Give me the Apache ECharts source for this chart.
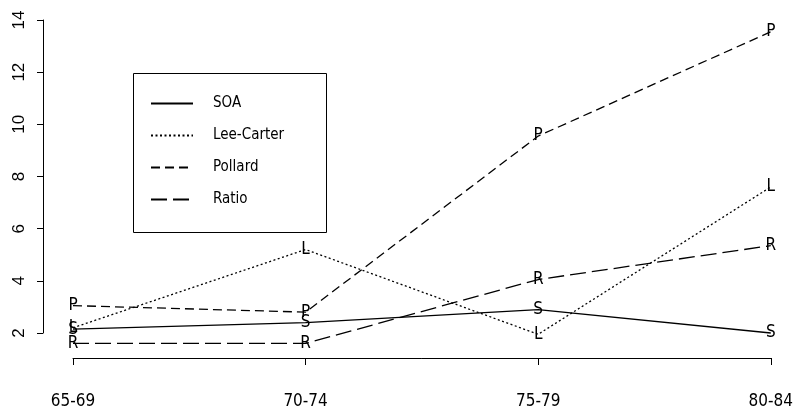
<!DOCTYPE html>
<html>
<head>
<meta charset="utf-8">
<script src="https://cdn.jsdelivr.net/npm/echarts@6/dist/echarts.min.js"></script>
<style>
  html, body { margin: 0; padding: 0; background: #fff; }
  #chart { width: 796px; height: 418px; }
</style>
</head>
<body>
<div id="chart"></div>
<script>
// ---- data ----
const categories = ['65-69', '70-74', '75-79', '80-84'];
const seriesNames = ['SOA', 'Lee-Carter', 'Pollard', 'Ratio'];
const pointLetters = ['S', 'L', 'P', 'R'];
const soa = [2.15, 2.4, 2.9, 2.0];
const leeCarter = [2.2, 5.2, 1.95, 7.6];
const pollard = [3.05, 2.8, 9.55, 13.55];
const ratio = [1.6, 1.6, 4.05, 5.35];
const yMin = 2, yMax = 14, yStep = 2;

const seriesValues = [soa, leeCarter, pollard, ratio];
const dashTypes = ['solid', [2, 2.5], [9, 5], [16, 6]];

const narrow = "'Liberation Sans Narrow','DejaVu Sans Condensed','Roboto',sans-serif";

const chart = echarts.init(document.getElementById('chart'), null, { renderer: 'canvas' });

const series = seriesNames.map((name, i) => ({
  name: name,
  type: 'line',
  data: seriesValues[i],
  clip: false,
  symbol: 'circle',
  symbolSize: 1,
  showSymbol: true,
  itemStyle: { color: 'rgba(0,0,0,0)' },
  lineStyle: { color: '#000', width: 1.3, type: dashTypes[i] },
  label: {
    show: true,
    position: 'inside',
    formatter: pointLetters[i],
    color: '#000',
    fontFamily: narrow,
    fontSize: 17
  },
  emphasis: { disabled: true },
  animation: false
}));

chart.setOption({
  animation: false,
  backgroundColor: '#fff',
  grid: { left: 73, right: 21, top: 20, bottom: 85 },
  xAxis: {
    type: 'category',
    data: categories,
    boundaryGap: false,
    offset: 25,
    axisLine: { show: true, lineStyle: { color: '#000', width: 1 } },
    axisTick: { show: true, length: 7, lineStyle: { color: '#000' } },
    axisLabel: {
      interval: 0, margin: 35, color: '#000',
      fontFamily: narrow, fontSize: 17
    },
    splitLine: { show: false }
  },
  yAxis: {
    type: 'value',
    min: yMin, max: yMax, interval: yStep,
    offset: 30,
    axisLine: { show: true, lineStyle: { color: '#000', width: 1 } },
    axisTick: { show: true, length: 6, lineStyle: { color: '#000' } },
    axisLabel: {
      rotate: 90, margin: 15, color: '#000',
      fontFamily: "'Liberation Sans',Arial,sans-serif", fontSize: 17
    },
    splitLine: { show: false }
  },
  legend: {
    data: seriesNames,
    orient: 'vertical',
    left: 145,
    top: 91,
    itemWidth: 42,
    itemHeight: 14,
    itemGap: 17,
    selectedMode: false,
    textStyle: {
      color: '#000', fontFamily: narrow, fontSize: 15,
      padding: [0, 0, 0, 15]
    }
  },
  graphic: [{
    type: 'rect',
    shape: { x: 133.5, y: 73.5, width: 193, height: 159 },
    style: { stroke: '#000', fill: 'none', lineWidth: 1 },
    silent: true
  }],
  series: series
});
</script>
</body>
</html>
